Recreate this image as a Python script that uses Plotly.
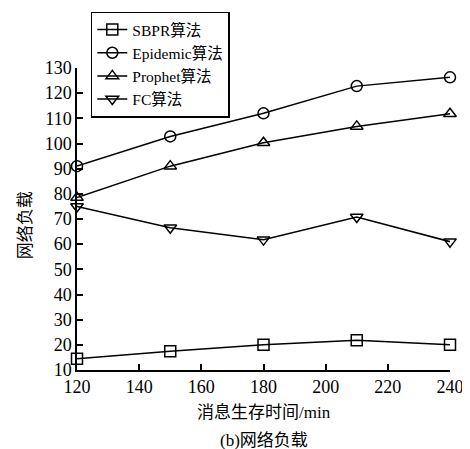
import plotly.graph_objects as go

times = [120, 150, 180, 210, 240]
sbpr = [14.5, 17.5, 20, 21.8, 20]
epidemic = [91, 102.8, 112, 122.8, 126.3]
prophet = [78.5, 91, 100.3, 106.8, 111.8]
fc = [75, 66.5, 61.8, 70.8, 61]

names = ["SBPR算法", "Epidemic算法", "Prophet算法", "FC算法"]
symbols = ["square-open", "circle-open", "triangle-up-open", "triangle-down-open"]

font_fam = "Liberation Serif, Noto Sans CJK SC, serif"

fig = go.Figure()
for name, vals, sym in zip(names, [sbpr, epidemic, prophet, fc], symbols):
    fig.add_trace(
        go.Scatter(
            x=times,
            y=vals,
            mode="lines+markers",
            name=name,
            line=dict(color="black", width=1.5),
            marker=dict(symbol=sym, size=11, color="black", line=dict(width=1.5, color="black")),
            cliponaxis=False,
        )
    )

# page body has an 8px margin, so the figure is drawn a bit smaller
fig.update_layout(
    width=462,
    height=441,
    margin=dict(l=69, r=20, t=60, b=79, autoexpand=False),
    paper_bgcolor="white",
    plot_bgcolor="white",
    font=dict(family=font_fam, size=18, color="black"),
    showlegend=True,
    legend=dict(
        x=0.037,
        y=1.187,
        xanchor="left",
        yanchor="top",
        bordercolor="black",
        borderwidth=1.5,
        bgcolor="white",
        font=dict(size=15.5),
        tracegroupgap=0,
        itemwidth=30,
        entrywidth=126,
    ),
)

fig.update_xaxes(
    range=[120, 240],
    tickvals=[120, 140, 160, 180, 200, 220, 240],
    ticks="inside",
    ticklen=6,
    tickwidth=1.5,
    tickcolor="black",
    showline=True,
    linecolor="black",
    linewidth=1.5,
    showgrid=False,
    zeroline=False,
    automargin=False,
)
fig.update_yaxes(
    range=[10, 130],
    tickvals=list(range(10, 131, 10)),
    ticks="inside",
    ticklen=6,
    tickwidth=1.5,
    tickcolor="black",
    showline=True,
    linecolor="black",
    linewidth=1.5,
    showgrid=False,
    zeroline=False,
    automargin=False,
)

fig.add_annotation(
    text="消息生存时间/min", xref="paper", yref="paper", x=0.5, y=-0.142,
    xanchor="center", yanchor="middle", showarrow=False, font=dict(size=17),
)
fig.add_annotation(
    text="网络负载", xref="paper", yref="paper", x=-0.139, y=0.48, textangle=-90,
    xanchor="center", yanchor="middle", showarrow=False, font=dict(size=17),
)
fig.add_annotation(
    text="(b)网络负载", xref="paper", yref="paper", x=0.5, y=-0.232,
    xanchor="center", yanchor="middle", showarrow=False, font=dict(size=17),
)

fig.write_html("out.html")
